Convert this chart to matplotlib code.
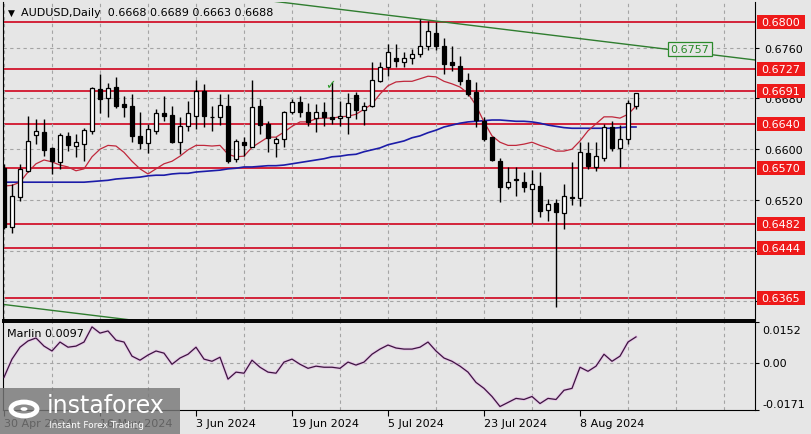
import matplotlib
matplotlib.use('Agg')
import matplotlib.pyplot as plt
from matplotlib.patches import Rectangle, Circle
from matplotlib.transforms import blended_transform_factory, offset_copy
from matplotlib.ticker import MultipleLocator, FixedLocator

# ---------------- data ----------------
opens = [0.6570,0.6477,0.6524,0.6566,0.6622,0.6627,0.6602,0.6580,0.6621,0.6605,
         0.6608,0.6629,0.6695,0.6681,0.6698,0.6671,0.6668,0.6621,0.6610,0.6629,
         0.6657,0.6654,0.6611,0.6636,0.6652,0.6692,0.6651,0.6651,0.6668,0.6585,
         0.6611,0.6604,0.6668,0.6640,0.6610,0.6616,0.6659,0.6674,0.6659,0.6649,
         0.6659,0.6651,0.6649,0.6651,0.6685,0.6662,0.6668,0.6707,0.6730,0.6744,
         0.6737,0.6744,0.6750,0.6763,0.6783,0.6763,0.6737,0.6731,0.6709,0.6690,
         0.6644,0.6619,0.6581,0.6540,0.6553,0.6549,0.6538,0.6542,0.6504,0.6515,
         0.6499,0.6524,0.6523,0.6594,0.6572,0.6586,0.6635,0.6602,0.6616,0.6668]
highs = [0.6577,0.6545,0.6577,0.6652,0.6648,0.6648,0.6603,0.6626,0.6627,0.6624,
         0.6633,0.6698,0.6719,0.6705,0.6714,0.6684,0.6687,0.6659,0.6640,0.6663,
         0.6684,0.6668,0.6651,0.6676,0.6709,0.6703,0.6668,0.6687,0.6687,0.6616,
         0.6620,0.6709,0.6679,0.6644,0.6620,0.6660,0.6679,0.6684,0.6673,0.6671,
         0.6674,0.6706,0.6676,0.6689,0.6690,0.6674,0.6737,0.6737,0.6766,0.6766,
         0.6753,0.6758,0.6805,0.6802,0.6800,0.6775,0.6763,0.6747,0.6720,0.6706,
         0.6651,0.6620,0.6586,0.6572,0.6572,0.6564,0.6567,0.6564,0.6521,0.6521,
         0.6545,0.6580,0.6611,0.6611,0.6611,0.6640,0.6644,0.6638,0.6678,0.6689]
lows = [0.6474,0.6468,0.6518,0.6564,0.6608,0.6589,0.6561,0.6569,0.6597,0.6588,
        0.6581,0.6624,0.6657,0.6651,0.6665,0.6651,0.6611,0.6600,0.6594,0.6624,
        0.6644,0.6609,0.6592,0.6628,0.6632,0.6635,0.6628,0.6638,0.6578,0.6580,
        0.6589,0.6603,0.6624,0.6595,0.6588,0.6604,0.6655,0.6651,0.6637,0.6627,
        0.6637,0.6640,0.6637,0.6624,0.6648,0.6638,0.6667,0.6706,0.6715,0.6730,
        0.6730,0.6734,0.6745,0.6756,0.6756,0.6718,0.6723,0.6701,0.6684,0.6635,
        0.6613,0.6581,0.6517,0.6538,0.6526,0.6533,0.6484,0.6493,0.6487,0.6351,
        0.6474,0.6512,0.6510,0.6569,0.6566,0.6581,0.6597,0.6572,0.6608,0.6663]
closes = [0.6477,0.6526,0.6569,0.6613,0.6629,0.6599,0.6581,0.6622,0.6607,0.6611,
          0.6630,0.6697,0.6679,0.6697,0.6668,0.6666,0.6621,0.6610,0.6632,0.6657,
          0.6652,0.6611,0.6636,0.6657,0.6692,0.6652,0.6650,0.6670,0.6581,0.6613,
          0.6607,0.6666,0.6638,0.6618,0.6616,0.6659,0.6674,0.6659,0.6643,0.6659,
          0.6651,0.6648,0.6652,0.6673,0.6662,0.6668,0.6709,0.6730,0.6753,0.6739,
          0.6744,0.6750,0.6763,0.6786,0.6763,0.6734,0.6732,0.6707,0.6687,0.6646,
          0.6616,0.6583,0.6540,0.6549,0.6552,0.6540,0.6545,0.6502,0.6513,0.6501,
          0.6526,0.6523,0.6595,0.6573,0.6589,0.6635,0.6602,0.6616,0.6673,0.6688]

red_ma = [0.6542,0.6543,0.6548,0.6564,0.6577,0.6583,0.6580,0.6575,0.6572,0.6566,
          0.6569,0.6588,0.6600,0.6606,0.6605,0.6595,0.6581,0.6569,0.6561,0.6569,
          0.6577,0.6581,0.6589,0.6599,0.6606,0.6606,0.6605,0.6606,0.6592,0.6588,
          0.6589,0.6603,0.6611,0.6619,0.6619,0.6627,0.6636,0.6643,0.6643,0.6648,
          0.6649,0.6649,0.6651,0.6652,0.6655,0.6663,0.6671,0.6687,0.6700,0.6706,
          0.6707,0.6707,0.6711,0.6715,0.6714,0.6707,0.6703,0.6698,0.6688,0.6669,
          0.6643,0.6621,0.6611,0.6606,0.6606,0.6608,0.6611,0.6606,0.6602,0.6597,
          0.6597,0.6600,0.6613,0.6629,0.6640,0.6651,0.6651,0.6649,0.6655,0.6668]
blue_ma = [0.6548,0.6548,0.6548,0.6548,0.6548,0.6548,0.6548,0.6548,0.6548,0.6548,
           0.6548,0.6549,0.6550,0.6551,0.6553,0.6554,0.6555,0.6556,0.6558,0.6559,
           0.6559,0.6561,0.6562,0.6562,0.6564,0.6565,0.6566,0.6567,0.6569,0.6570,
           0.6572,0.6572,0.6573,0.6574,0.6574,0.6575,0.6577,0.6579,0.6581,0.6583,
           0.6585,0.6588,0.6589,0.6591,0.6592,0.6596,0.6599,0.6602,0.6607,0.6610,
           0.6613,0.6618,0.6621,0.6626,0.6630,0.6635,0.6638,0.6641,0.6643,0.6644,
           0.6645,0.6646,0.6646,0.6645,0.6644,0.6644,0.6643,0.6641,0.6638,0.6636,
           0.6634,0.6633,0.6633,0.6633,0.6633,0.6633,0.6633,0.6634,0.6635,0.6635]
marlin = [-0.0052,0.0015,0.0059,0.0082,0.0093,0.0063,0.0045,0.0078,0.0059,0.0063,
          0.0078,0.0134,0.0111,0.0119,0.0085,0.0078,0.0026,0.0011,0.0030,0.0045,
          0.0037,-0.0004,0.0019,0.0033,0.0059,0.0015,0.0007,0.0022,-0.0059,-0.0033,
          -0.0037,0.0011,-0.0015,-0.0033,-0.0037,0.0004,0.0015,-0.0004,-0.0019,-0.0011,
          -0.0015,-0.0015,-0.0019,0.0004,-0.0007,0.0004,0.0033,0.0052,0.0067,0.0056,
          0.0052,0.0052,0.0059,0.0078,0.0045,0.0019,0.0007,-0.0011,-0.0033,-0.0071,
          -0.0093,-0.0123,-0.0160,-0.0145,-0.0130,-0.0134,-0.0123,-0.0149,-0.0130,-0.0134,
          -0.0100,-0.0093,-0.0015,-0.0030,-0.0011,0.0033,0.0007,0.0026,0.0078,0.0097]

levels = [0.6800, 0.6727, 0.6691, 0.6640, 0.6570, 0.6482, 0.6444, 0.6365]
date_bars = [0, 12, 24, 36, 48, 60, 72]
date_labels = ["30 Apr 2024", "16 May 2024", "3 Jun 2024", "19 Jun 2024",
               "5 Jul 2024", "23 Jul 2024", "8 Aug 2024"]
price_ticks = [0.6360, 0.6440, 0.6520, 0.6600, 0.6680, 0.6760]
price_tick_labels = ["", "", "0.6520", "0.6600", "0.6680", "0.6760"]
marlin_ticks = [0.0152, 0.00, -0.0171]
marlin_tick_labels = ["0.0152", "0.00", "-0.0171"]
trend1_x = [31.4, 93.9]
trend1_y = [0.68367, 0.67406]
trend2_x = [-0.2, 20.0]
trend2_y = [0.63555, 0.63245]
trend_label = "0.6757"
header = "AUDUSD,Daily  0.6668 0.6689 0.6663 0.6688"

# ---------------- style ----------------
BG = '#e6e6e6'
GRID = '#a4a4a4'
LEVEL = '#d2142c'
W, H = 812, 435

fig = plt.figure(figsize=(W / 100, H / 100), dpi=100)
fig.patch.set_facecolor(BG)

def fx(px):
    return px / W

def fy(py):
    return 1 - py / H

ax = fig.add_axes([fx(3), fy(321), fx(755) - fx(3), fy(3) - fy(321)])
ax2 = fig.add_axes([fx(3), fy(410.5), fx(755) - fx(3), fy(323) - fy(410.5)])
for a in (ax, ax2):
    a.set_facecolor(BG)
    a.set_xlim(-0.125, 93.875)

ax.set_ylim(0.63308, 0.68320)
ax2.set_ylim(-0.0171, 0.0152)

n = len(closes)
xs = list(range(n))

# grid
for a in (ax, ax2):
    a.xaxis.set_minor_locator(MultipleLocator(6))
    a.grid(which='minor', axis='x', color=GRID, linestyle=(0, (3, 3)), lw=0.8)
ax.set_xticks([])
ax.yaxis.set_major_locator(FixedLocator(price_ticks))
ax.grid(which='major', axis='y', color=GRID, linestyle=(0, (3, 3)), lw=0.8)
ax.tick_params(axis='x', which='both', length=0)

# level lines
for lv in levels:
    ax.axhline(lv, color=LEVEL, lw=1.3, zorder=1.5)

# trend lines
ax.plot(trend1_x, trend1_y, color='#2f7d2f', lw=1.0, zorder=1.6)
ax.plot(trend2_x, trend2_y, color='#2f7d2f', lw=1.0, zorder=1.6)

# moving averages
ax.plot(xs, blue_ma, color='#1c1ca8', lw=1.2, zorder=2.2)
ax.plot(xs, red_ma, color='#c0283c', lw=0.9, zorder=2.2)

# candles
bodies_bottom = [min(o, c) for o, c in zip(opens, closes)]
bodies_height = [max(abs(c - o), 0.00002) for o, c in zip(opens, closes)]
colors = ['white' if c >= o else 'black' for o, c in zip(opens, closes)]
ax.vlines(xs, lows, highs, color='black', lw=1.0, zorder=3)
ax.bar(xs, bodies_height, bottom=bodies_bottom, width=0.62, color=colors,
       edgecolor='black', linewidth=0.9, zorder=4)

# checkmark and trend label
ax.text(40.75, 0.6701, '\u2713', color='#2a9a2a', fontsize=9, ha='center',
        va='center', zorder=5)
ax.text(85.75, 0.67575, trend_label, color='#2a8a2a', fontsize=8, ha='center',
        va='center', zorder=5,
        bbox=dict(boxstyle='square,pad=0.2', facecolor=BG, edgecolor='#2a8a2a', lw=0.9))

# right price axis
ax.yaxis.tick_right()
ax.tick_params(axis='y', which='major', length=3, width=0.8, pad=4,
               labelsize=8, colors='black')
ax.set_yticklabels(price_tick_labels)
tr = blended_transform_factory(ax.transAxes, ax.transData)
ppx = (ax.get_ylim()[1] - ax.get_ylim()[0]) / 318.0   # price per pixel
for lv in levels:
    ax.add_patch(Rectangle((1.0 + 2 / 752, lv - 7 * ppx), 48 / 752, 14 * ppx,
                           transform=tr, facecolor='#ee1a1a', edgecolor='none',
                           clip_on=False, zorder=9))
    ax.text(1.0 + 26 / 752, lv, f"{lv:.4f}", transform=tr, ha='center', va='center',
            fontsize=8, color='white', zorder=10, clip_on=False)

ax.spines['top'].set_visible(False)
ax.spines['left'].set_color('black')
ax.spines['right'].set_color('black')
ax.spines['bottom'].set_linewidth(1.4)

# Marlin sub-window
ax2.plot(xs, marlin, color='#e6b4e6', lw=2.2, alpha=0.6, zorder=2)
ax2.plot(xs, marlin, color='#3c1440', lw=0.9, zorder=3)
ax2.axhline(0, color=GRID, linestyle=(0, (3, 3)), lw=0.8, zorder=1)
ax2.yaxis.tick_right()
ax2.set_yticks(marlin_ticks)
ax2.set_yticklabels([])
ax2.tick_params(axis='y', length=3, width=0.8)
tr2 = blended_transform_factory(ax2.transAxes, ax2.transData)
ax2.text(1.0 + 7 / 752, marlin_ticks[0], marlin_tick_labels[0],
         transform=offset_copy(tr2, fig=fig, y=-3, units='dots'),
         ha='left', va='top', fontsize=8, clip_on=False)
ax2.text(1.0 + 7 / 752, marlin_ticks[1], marlin_tick_labels[1], transform=tr2,
         ha='left', va='center', fontsize=8, clip_on=False)
ax2.text(1.0 + 7 / 752, marlin_ticks[2], marlin_tick_labels[2], transform=tr2,
         ha='left', va='bottom', fontsize=8, clip_on=False)
ax2.set_xticks(date_bars)
ax2.set_xticklabels(date_labels)
ax2.tick_params(axis='x', which='major', length=4, width=0.8, pad=2, labelsize=8)
ax2.tick_params(axis='x', which='minor', length=0)
for lbl in ax2.get_xticklabels():
    lbl.set_horizontalalignment('left')
for s in ax2.spines.values():
    s.set_color('black')
ax2.spines['top'].set_linewidth(1.4)
ax2.text(4 / 752, 0.0112, f"Marlin {marlin[-1]:.4f}", transform=tr2, fontsize=8,
         ha='left', va='center')

# header
fig.text(fx(8), fy(13), '\u25bc', fontsize=6.5, ha='left', va='center')
fig.text(fx(21), fy(13), header, fontsize=8, ha='left', va='center')

# watermark
fig.patches.append(Rectangle((0, fy(435)), fx(180), fy(389) - fy(435),
                             transform=fig.transFigure, facecolor='#787878',
                             alpha=0.82, edgecolor='none', zorder=20))
fig.patches.append(Circle((fx(24), fy(410)), 13 / W, transform=fig.transFigure,
                          facecolor='none', edgecolor='white', lw=3.5, zorder=21))
fig.patches.append(Circle((fx(24), fy(410)), 3.5 / W, transform=fig.transFigure,
                          facecolor='white', edgecolor='none', zorder=21))
fig.text(fx(47), fy(406), 'instaforex', fontsize=17, color='white', ha='left',
         va='center', zorder=22)
fig.text(fx(49), fy(426), 'Instant Forex Trading', fontsize=6.5, color='white',
         ha='left', va='center', zorder=22)

fig.savefig('out.png', dpi=100, facecolor=BG)
